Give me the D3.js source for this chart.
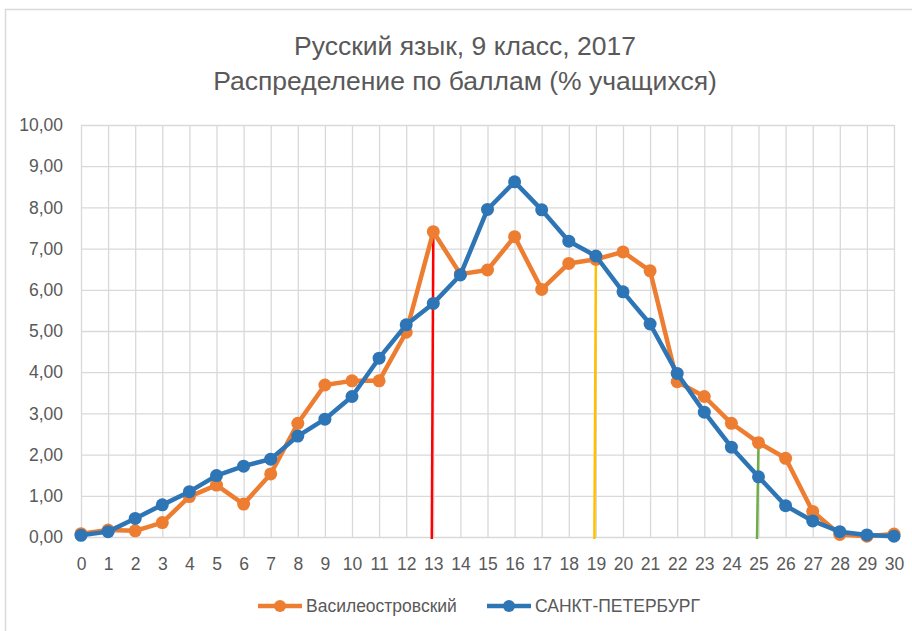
<!DOCTYPE html>
<html>
<head>
<meta charset="utf-8">
<script src="https://cdn.jsdelivr.net/npm/d3@7"></script>
<style>
  html, body { margin: 0; padding: 0; background: #fff; }
  svg { display: block; font-family: "Liberation Sans", Arial, sans-serif; }
  .title { fill: #595959; font-size: 26.5px; }
  .tick text { fill: #595959; font-size: 17.5px; }
  .legend text { fill: #595959; font-size: 17.5px; }
</style>
</head>
<body>
<div id="chart"></div>
<script>
'use strict';

// баллы 0..30
const scores = d3.range(0, 31);

// Василеостровский (% учащихся)
const vasileostrovsky = [0.08, 0.17, 0.15, 0.35, 0.98, 1.26, 0.80, 1.53, 2.76, 3.69,
  3.79, 3.79, 4.97, 7.41, 6.38, 6.48, 7.29, 6.01, 6.64, 6.74,
  6.92, 6.46, 3.77, 3.41, 2.76, 2.29, 1.91, 0.62, 0.06, 0.02, 0.07];

// Санкт-Петербург (% учащихся)
const spb = [0.04, 0.13, 0.45, 0.78, 1.10, 1.49, 1.72, 1.89, 2.45, 2.86,
  3.41, 4.34, 5.15, 5.67, 6.36, 7.95, 8.62, 7.94, 7.18, 6.82,
  5.95, 5.17, 3.97, 3.03, 2.18, 1.46, 0.76, 0.39, 0.13, 0.05, 0.02];

const seriesNames = ["Василеостровский", "САНКТ-ПЕТЕРБУРГ"];
const seriesColors = ["#ED7D31", "#2E75B6"];

// отметки на графике: балл, значение, цвет
const markScores = [13, 19, 25];
const markValues = [7.41, 6.74, 2.29];
const markColors = ["#FF0000", "#FFC000", "#70AD47"];

const yTicks = d3.range(0, 11);
const titleLines = ["Русский язык, 9 класс, 2017", "Распределение по баллам (% учащихся)"];

const size = { width: 912, height: 631 };
const plot = { left: 81, right: 894, top: 125, bottom: 537 };

const svg = d3.select("#chart").append("svg")
  .attr("width", size.width)
  .attr("height", size.height);

// рамка диаграммы
svg.append("rect")
  .attr("x", 5.5).attr("y", 9.5)
  .attr("width", 1000).attr("height", 800)
  .attr("fill", "none")
  .attr("stroke", "#D9D9D9")
  .attr("stroke-width", 1.5);

const xScale = d3.scaleLinear().domain([0, 30]).range([plot.left, plot.right]);
const yScale = d3.scaleLinear().domain([0, 10]).range([plot.bottom, plot.top]);

svg.selectAll("text.title")
  .data(titleLines)
  .enter().append("text")
  .attr("class", "title")
  .attr("text-anchor", "middle")
  .attr("x", 465)
  .attr("y", (d, i) => 55 + i * 35)
  .text(d => d);

// сетка
const xGrid = d3.axisBottom(xScale).tickValues(scores).tickSize(-(plot.bottom - plot.top)).tickFormat("");
const yGrid = d3.axisLeft(yScale).tickValues(yTicks).tickSize(-(plot.right - plot.left)).tickFormat("");

svg.append("g")
  .attr("class", "xGrid")
  .attr("transform", "translate(0," + plot.bottom + ")")
  .call(xGrid)
  .call(g => g.select(".domain").remove())
  .call(g => g.selectAll("line").attr("stroke", "#D9D9D9").attr("stroke-width", 1.3));

svg.append("g")
  .attr("class", "yGrid")
  .attr("transform", "translate(" + plot.left + ",0)")
  .call(yGrid)
  .call(g => g.select(".domain").remove())
  .call(g => g.selectAll("line").attr("stroke", "#D9D9D9").attr("stroke-width", 1.3));

// оси (только подписи)
const fmt = d => d3.format(".2f")(d).replace(".", ",");

svg.append("g")
  .attr("class", "y axis")
  .attr("transform", "translate(" + (plot.left - 18) + ",0)")
  .call(d3.axisLeft(yScale).tickValues(yTicks).tickSize(0).tickPadding(0).tickFormat(fmt))
  .call(g => g.select(".domain").remove())
  .call(g => g.selectAll("text").attr("font-family", null).attr("font-size", null));

svg.append("g")
  .attr("class", "x axis")
  .attr("transform", "translate(0," + (plot.bottom + 21) + ")")
  .call(d3.axisBottom(xScale).tickValues(scores).tickSize(0).tickPadding(0).tickFormat(d3.format("d")))
  .call(g => g.select(".domain").remove())
  .call(g => g.selectAll("text").attr("font-family", null).attr("font-size", null));

// вертикальные отметки
svg.selectAll("line.mark")
  .data(markScores)
  .enter().append("line")
  .attr("class", "mark")
  .attr("x1", d => xScale(d))
  .attr("x2", d => xScale(d) - 1.5)
  .attr("y1", (d, i) => yScale(markValues[i]))
  .attr("y2", yScale(0) + 2)
  .attr("stroke", (d, i) => markColors[i])
  .attr("stroke-width", 2.5);

// линии серий
const line = d3.line()
  .x((d, i) => xScale(scores[i]))
  .y(d => yScale(d));

[vasileostrovsky, spb].forEach((values, k) => {
  const g = svg.append("g").attr("class", "series");
  g.append("path")
    .datum(values)
    .attr("fill", "none")
    .attr("stroke", seriesColors[k])
    .attr("stroke-width", 4.5)
    .attr("stroke-linejoin", "round")
    .attr("d", line);
  g.selectAll("circle")
    .data(values)
    .enter().append("circle")
    .attr("cx", (d, i) => xScale(scores[i]))
    .attr("cy", d => yScale(d))
    .attr("r", 6.5)
    .attr("fill", seriesColors[k]);
});

// легенда
const legendX = [258, 487];
const legend = svg.append("g").attr("class", "legend");
seriesNames.forEach((name, k) => {
  const lx = legendX[k];
  legend.append("line")
    .attr("x1", lx).attr("x2", lx + 44)
    .attr("y1", 606).attr("y2", 606)
    .attr("stroke", seriesColors[k])
    .attr("stroke-width", 4.5);
  legend.append("circle")
    .attr("cx", lx + 22).attr("cy", 606)
    .attr("r", 6)
    .attr("fill", seriesColors[k]);
  legend.append("text")
    .attr("x", lx + 48).attr("y", 612)
    .text(name);
});
</script>
</body>
</html>
